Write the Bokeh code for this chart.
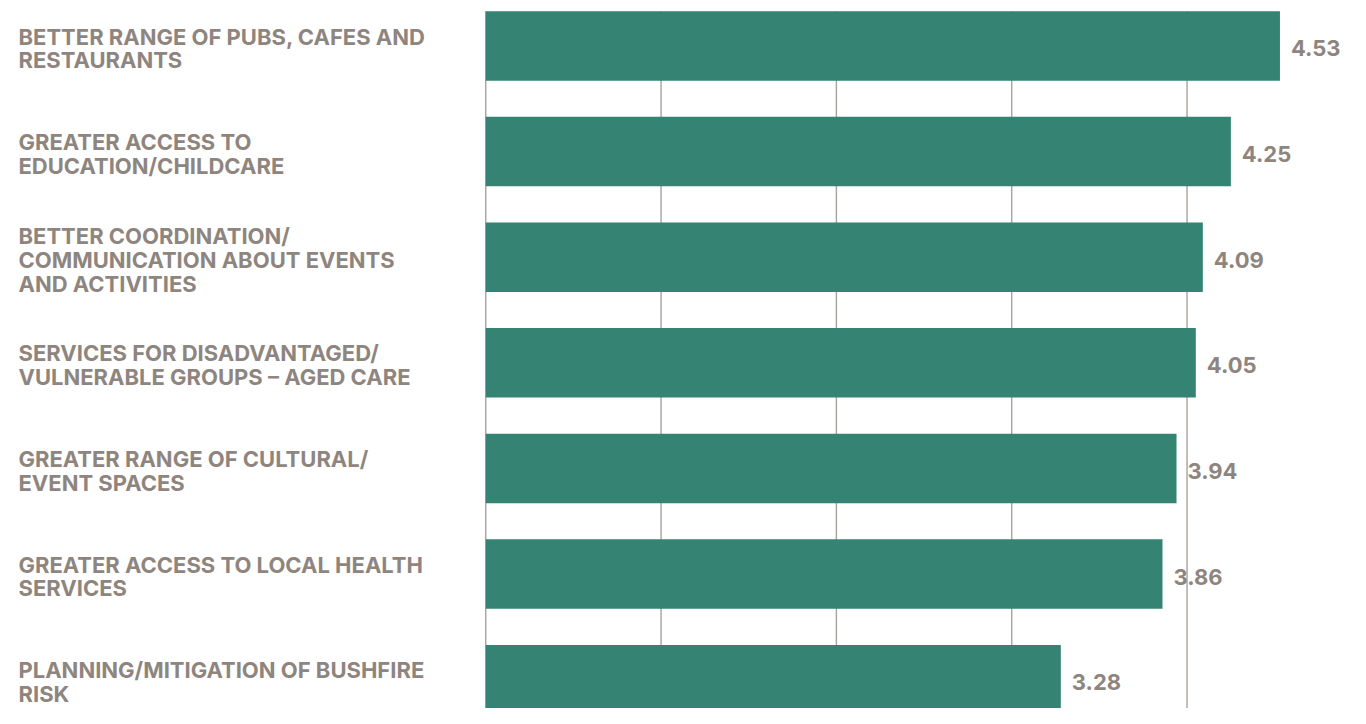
from bokeh.plotting import figure
from bokeh.models import ColumnDataSource, Range1d
from bokeh.core.properties import value
from bokeh.embed import file_html
from bokeh.resources import INLINE

categories = [
    "BETTER RANGE OF PUBS, CAFES AND\nRESTAURANTS",
    "GREATER ACCESS TO\nEDUCATION/CHILDCARE",
    "BETTER COORDINATION/\nCOMMUNICATION ABOUT EVENTS\nAND ACTIVITIES",
    "SERVICES FOR DISADVANTAGED/\nVULNERABLE GROUPS \u2013 AGED CARE",
    "GREATER RANGE OF CULTURAL/\nEVENT SPACES",
    "GREATER ACCESS TO LOCAL HEALTH\nSERVICES",
    "PLANNING/MITIGATION OF BUSHFIRE\nRISK",
]
values = [4.53, 4.25, 4.09, 4.05, 3.94, 3.86, 3.28]
grid_values = [0, 1, 2, 3, 4]

BAR = "#348373"
TEXT = "#8e857e"
GRID = "#a9a29c"
FONT = "Inter"

W, H = 1350, 708
sx, sy = W / 1366, H / 724
px_per_unit = 177.4 * sx
zero_px = 491 * sx
x_start = -zero_px / px_per_unit
x_end = (W - zero_px) / px_per_unit
row_px = 108.0 * sy
first_center = 46.5 * sy
y_top = -first_center / row_px
y_bottom = (H - first_center) / row_px
bar_h = 71 / 108

idx = list(range(len(categories)))
src = ColumnDataSource(dict(
    y=idx, v=values, cat=categories,
    lbl=[f"{v:.2f}" for v in values],
    lx=[x_start] * len(idx),
))

p = figure(width=W, height=H, output_backend="svg", toolbar_location=None,
           x_range=Range1d(x_start, x_end), y_range=Range1d(y_bottom, y_top),
           x_axis_location=None, y_axis_location=None, min_border=0,
           outline_line_color=None, background_fill_color="white",
           border_fill_color="white")
p.grid.visible = False

gsrc = ColumnDataSource(dict(x=grid_values,
                             y0=[-bar_h / 2] * len(grid_values),
                             y1=[len(idx) + 1] * len(grid_values)))
p.segment(x0="x", x1="x", y0="y0", y1="y1", source=gsrc,
          line_color=GRID, line_width=1.4)

p.hbar(y="y", left=0, right="v", height=bar_h, source=src,
       fill_color=BAR, line_color=None)

p.text(x="lx", y="y", text="cat", source=src, x_offset=18, y_offset=2.5,
       text_font=value(FONT), text_font_style="bold", text_font_size="22px",
       text_color=TEXT, text_align="left", text_baseline="middle",
       text_line_height=0.92)

p.text(x="v", y="y", text="lbl", source=src, x_offset=11, y_offset=2.5,
       text_font=value(FONT), text_font_style="bold", text_font_size="22px",
       text_color=TEXT, text_align="left", text_baseline="middle")

open("out.html", "w").write(file_html(p, INLINE))
